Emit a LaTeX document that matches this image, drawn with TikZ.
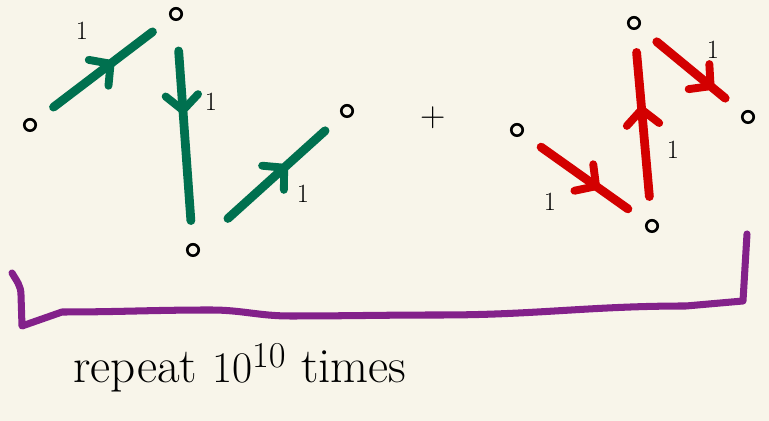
\documentclass[tikz,border=0pt]{standalone}
\usetikzlibrary{arrows.meta,decorations.markings}
\definecolor{paper}{HTML}{F8F5EA}
\definecolor{pine}{HTML}{00704F}
\definecolor{crimson}{HTML}{D30000}
\definecolor{plum}{HTML}{83218A}
\tikzset{
  vtx/.style={circle,draw=black,line width=1.5pt,inner sep=0pt,minimum size=6.5pt},
  lbl/.style={font=\fontsize{15}{18}\selectfont,inner sep=0pt},
  leg/.style={line width=5pt,line cap=round,shorten <=0.45cm,shorten >=0.45cm,
              postaction={decorate},
              decoration={markings,mark=at position #1 with
                {\arrow[line width=4.5pt]{Straight Barb[length=3mm,width=6.5mm,round]}}}},
  gleg/.style={leg=#1,draw=pine},
  rleg/.style={leg=#1,draw=crimson},
  brace/.style={draw=plum,line width=4pt,line cap=round,line join=round}
}

\begin{document}
\begin{tikzpicture}[x=0.02cm,y=-0.02cm]
    \fill[paper] (0,0) rectangle (769,421);
    \useasboundingbox (0,0) rectangle (769,421);
    % green term
    \node[vtx] (g1) at (30,125) {};
    \node[vtx] (g2) at (176,14) {};
    \node[vtx] (g3) at (193,250) {};
    \node[vtx] (g4) at (347,111) {};
    \draw[gleg=0.58] (g1) -- (g2);
    \draw[gleg=0.42,shorten <=0.6cm] (g2) -- (g3);
    \draw[gleg=0.62,shorten <=0.8cm] (g3) -- (g4);
    \node[lbl] (gl1) at (82,31) {1};
    \node[lbl] (gl2) at (211,102) {1};
    \node[lbl] (gl3) at (303,194) {1};
    % plus
    \node[font=\fontsize{20}{24}\selectfont] (plus) at (433,118) {+};
    % red term
    \node[vtx] (r1) at (517,130) {};
    \node[vtx] (r2) at (652,226) {};
    \node[vtx] (r3) at (634,23) {};
    \node[vtx] (r4) at (748,117) {};
    \draw[rleg=0.62] (r1) -- (r2);
    \draw[rleg=0.6] (r2) -- (r3);
    \draw[rleg=0.72] (r3) -- (r4);
    \node[lbl] (rl1) at (550,202) {1};
    \node[lbl] (rl2) at (673,150) {1};
    \node[lbl] (rl3) at (713,50) {1};
    % bracket
    \draw[brace] (12,273) to[out=-60,in=90] (21,295) -- (22,326)
      -- (62,312) to[out=0,in=180] (211,310) to[out=0,in=180] (290,316)
      to[out=0,in=180] (440,315) to[out=0,in=180] (686,306) -- (743,301) -- (747,234);
    \node[anchor=base,inner sep=0pt,font=\fontsize{28}{32}\selectfont] (note) at (240,383)
      {repeat $10^{10}$ times};
\end{tikzpicture}
\end{document}
